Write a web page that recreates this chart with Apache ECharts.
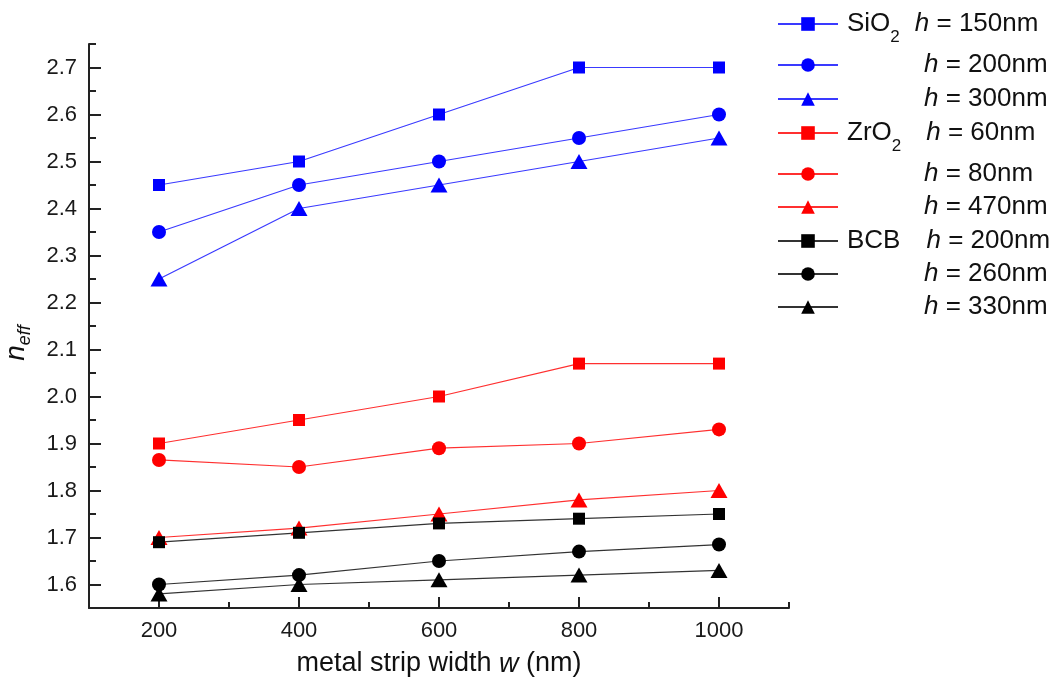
<!DOCTYPE html>
<html><head><meta charset="utf-8">
<script src="https://cdn.jsdelivr.net/npm/echarts@6/dist/echarts.min.js"></script>
<style>html,body{margin:0;padding:0;background:#fff}#c{width:1057px;height:690px}</style>
</head><body><div id="c"></div>
<script>
// ---------- data ----------
const widths = [200, 400, 600, 800, 1000];
const sio2_h150 = [2.45, 2.50, 2.60, 2.70, 2.70];
const sio2_h200 = [2.35, 2.45, 2.50, 2.55, 2.60];
const sio2_h300 = [2.25, 2.40, 2.45, 2.50, 2.55];
const zro2_h60  = [1.90, 1.95, 2.00, 2.07, 2.07];
const zro2_h80  = [1.865, 1.85, 1.89, 1.90, 1.93];
const zro2_h470 = [1.70, 1.72, 1.75, 1.78, 1.80];
const bcb_h200  = [1.69, 1.71, 1.73, 1.74, 1.75];
const bcb_h260  = [1.60, 1.62, 1.65, 1.67, 1.685];
const bcb_h330  = [1.58, 1.60, 1.61, 1.62, 1.63];

const seriesNames = ['SiO2 h=150', 'SiO2 h=200', 'SiO2 h=300',
                     'ZrO2 h=60', 'ZrO2 h=80', 'ZrO2 h=470',
                     'BCB h=200', 'BCB h=260', 'BCB h=330'];
const materialBase = ['SiO', '', '', 'ZrO', '', '', 'BCB', '', ''];
const materialSub  = ['2', '', '', '2', '', '', '', '', ''];
const hValues = ['150', '200', '300', '60', '80', '470', '200', '260', '330'];

const xTickValues = [200, 400, 600, 800, 1000];
const xMinorTickValues = [100, 300, 500, 700, 900, 1100];
const yTickValues = [1.6, 1.7, 1.8, 1.9, 2.0, 2.1, 2.2, 2.3, 2.4, 2.5, 2.6, 2.7];
const yMinorTickValues = [1.55, 1.65, 1.75, 1.85, 1.95, 2.05, 2.15, 2.25, 2.35, 2.45, 2.55, 2.65, 2.75];

// ---------- styles / layout ----------
const seriesValues = [sio2_h150, sio2_h200, sio2_h300, zro2_h60, zro2_h80, zro2_h470, bcb_h200, bcb_h260, bcb_h330];
const FONT = 'Liberation Sans, Arial, sans-serif';
const markerColors = ['#0000ff','#0000ff','#0000ff','#ff0000','#ff0000','#ff0000','#000000','#000000','#000000'];
const lineColors = ['#3a3aff','#3a3aff','#3a3aff','#ff3030','#ff3030','#ff3030','#333333','#333333','#333333'];
const symbols = ['rect','circle','triangle','rect','circle','triangle','rect','circle','triangle'];
const symbolSizes = [12, 14, [17, 15], 12, 14, [17, 15], 12, 14, [17, 15]];
const legendRowY = [23, 64, 98, 132, 173, 206, 240, 273, 306];
const legendGapStyle = ['gS', 'pad', 'pad', 'gZ', 'pad', 'pad', 'gB', 'pad', 'pad'];
const AX = '#222';
const LH = 44;

const legendRich = {
  lead: {width: 4, lineHeight: LH, fontSize: 26, fontFamily: FONT},
  m:   {fontSize: 26, lineHeight: LH, fontFamily: FONT, color: '#111'},
  sub: {fontSize: 17, lineHeight: 10, verticalAlign: 'bottom', fontFamily: FONT, color: '#111'},
  i:   {fontSize: 26, lineHeight: LH, fontStyle: 'italic', fontFamily: FONT, color: '#111'},
  t:   {fontSize: 26, lineHeight: LH, fontFamily: FONT, color: '#111'},
  gS:  {width: 15, lineHeight: LH, fontSize: 26},
  gZ:  {width: 25, lineHeight: LH, fontSize: 26},
  gB:  {width: 26, lineHeight: LH, fontSize: 26},
  pad: {width: 81, lineHeight: LH, fontSize: 26}
};

function legendText(name) {
  const k = seriesNames.indexOf(name);
  let s = '';
  if (materialBase[k]) {
    s += '{lead| }{m|' + materialBase[k] + '}';
    if (materialSub[k]) s += '{sub|' + materialSub[k] + '}';
  }
  s += '{' + legendGapStyle[k] + '| }{i|h}{t| = ' + hValues[k] + 'nm}';
  return s;
}

const legends = seriesNames.map((n, k) => ({
  data: [n],
  left: 777,
  top: legendRowY[k] - 12,
  orient: 'vertical',
  padding: 0,
  itemWidth: 60,
  itemHeight: 17,
  selectedMode: false,
  formatter: legendText,
  textStyle: {fontFamily: FONT, fontSize: 26, color: '#111', rich: legendRich}
}));

const series = seriesNames.map((n, k) => ({
  name: n,
  type: 'line',
  xAxisIndex: 0,
  yAxisIndex: 0,
  data: widths.map((w, j) => [w, seriesValues[k][j]]),
  symbol: symbols[k],
  symbolSize: symbolSizes[k],
  itemStyle: {color: markerColors[k], borderWidth: 0},
  lineStyle: {color: lineColors[k], width: 1.2},
  emphasis: {disabled: true},
  animation: false,
  z: 3
}));

const option = {
  animation: false,
  backgroundColor: '#fff',
  grid: {left: 89, right: 268, top: 44, bottom: 82, containLabel: false, outerBoundsMode: 'none'},
  legend: legends,
  xAxis: [{
    type: 'value', min: 100, max: 1100,
    position: 'bottom',
    name: '{a|metal strip width }{w|w}{a| (nm)}',
    nameLocation: 'middle', nameGap: 40,
    nameTextStyle: {rich: {
      a: {fontSize: 27, fontFamily: FONT, color: '#111', lineHeight: 32},
      w: {fontSize: 27, fontFamily: FONT, color: '#111', fontStyle: 'italic', lineHeight: 32}
    }},
    axisLine: {show: true, lineStyle: {color: AX, width: 2}},
    axisTick: {show: true, inside: true, length: 11, customValues: xTickValues, lineStyle: {color: AX, width: 2}},
    axisLabel: {customValues: xTickValues, fontSize: 22, fontFamily: FONT, color: '#1a1a1a', margin: 12,
      formatter: v => String(v)},
    splitLine: {show: false}
  }, {
    type: 'value', min: 100, max: 1100,
    position: 'bottom', offset: 0,
    axisLine: {show: false},
    axisTick: {show: true, inside: true, length: 6, customValues: xMinorTickValues, lineStyle: {color: AX, width: 2}},
    axisLabel: {show: false},
    splitLine: {show: false}
  }],
  yAxis: [{
    type: 'value', min: 1.55, max: 2.75,
    position: 'left',
    name: '{n|n}{s|eff}',
    nameLocation: 'middle', nameGap: 55,
    nameTextStyle: {padding: [0, 34, 0, 0], rich: {
      n: {fontSize: 28, fontFamily: FONT, color: '#111', fontStyle: 'italic', lineHeight: 36},
      s: {fontSize: 18, fontFamily: FONT, color: '#111', fontStyle: 'italic', lineHeight: 10, verticalAlign: 'bottom'}
    }},
    axisLine: {show: true, lineStyle: {color: AX, width: 2}},
    axisTick: {show: true, inside: true, length: 12, customValues: yTickValues, lineStyle: {color: AX, width: 2}},
    axisLabel: {customValues: yTickValues, fontSize: 22, fontFamily: FONT, color: '#1a1a1a', margin: 12,
      formatter: v => Number(v).toFixed(1)},
    splitLine: {show: false}
  }, {
    type: 'value', min: 1.55, max: 2.75,
    position: 'left', offset: 0,
    axisLine: {show: false},
    axisTick: {show: true, inside: true, length: 7, customValues: yMinorTickValues, lineStyle: {color: AX, width: 2}},
    axisLabel: {show: false},
    splitLine: {show: false}
  }],
  series: series
};

const chart = echarts.init(document.getElementById('c'), null, {renderer: 'canvas'});
chart.setOption(option);
</script>
</body></html>
